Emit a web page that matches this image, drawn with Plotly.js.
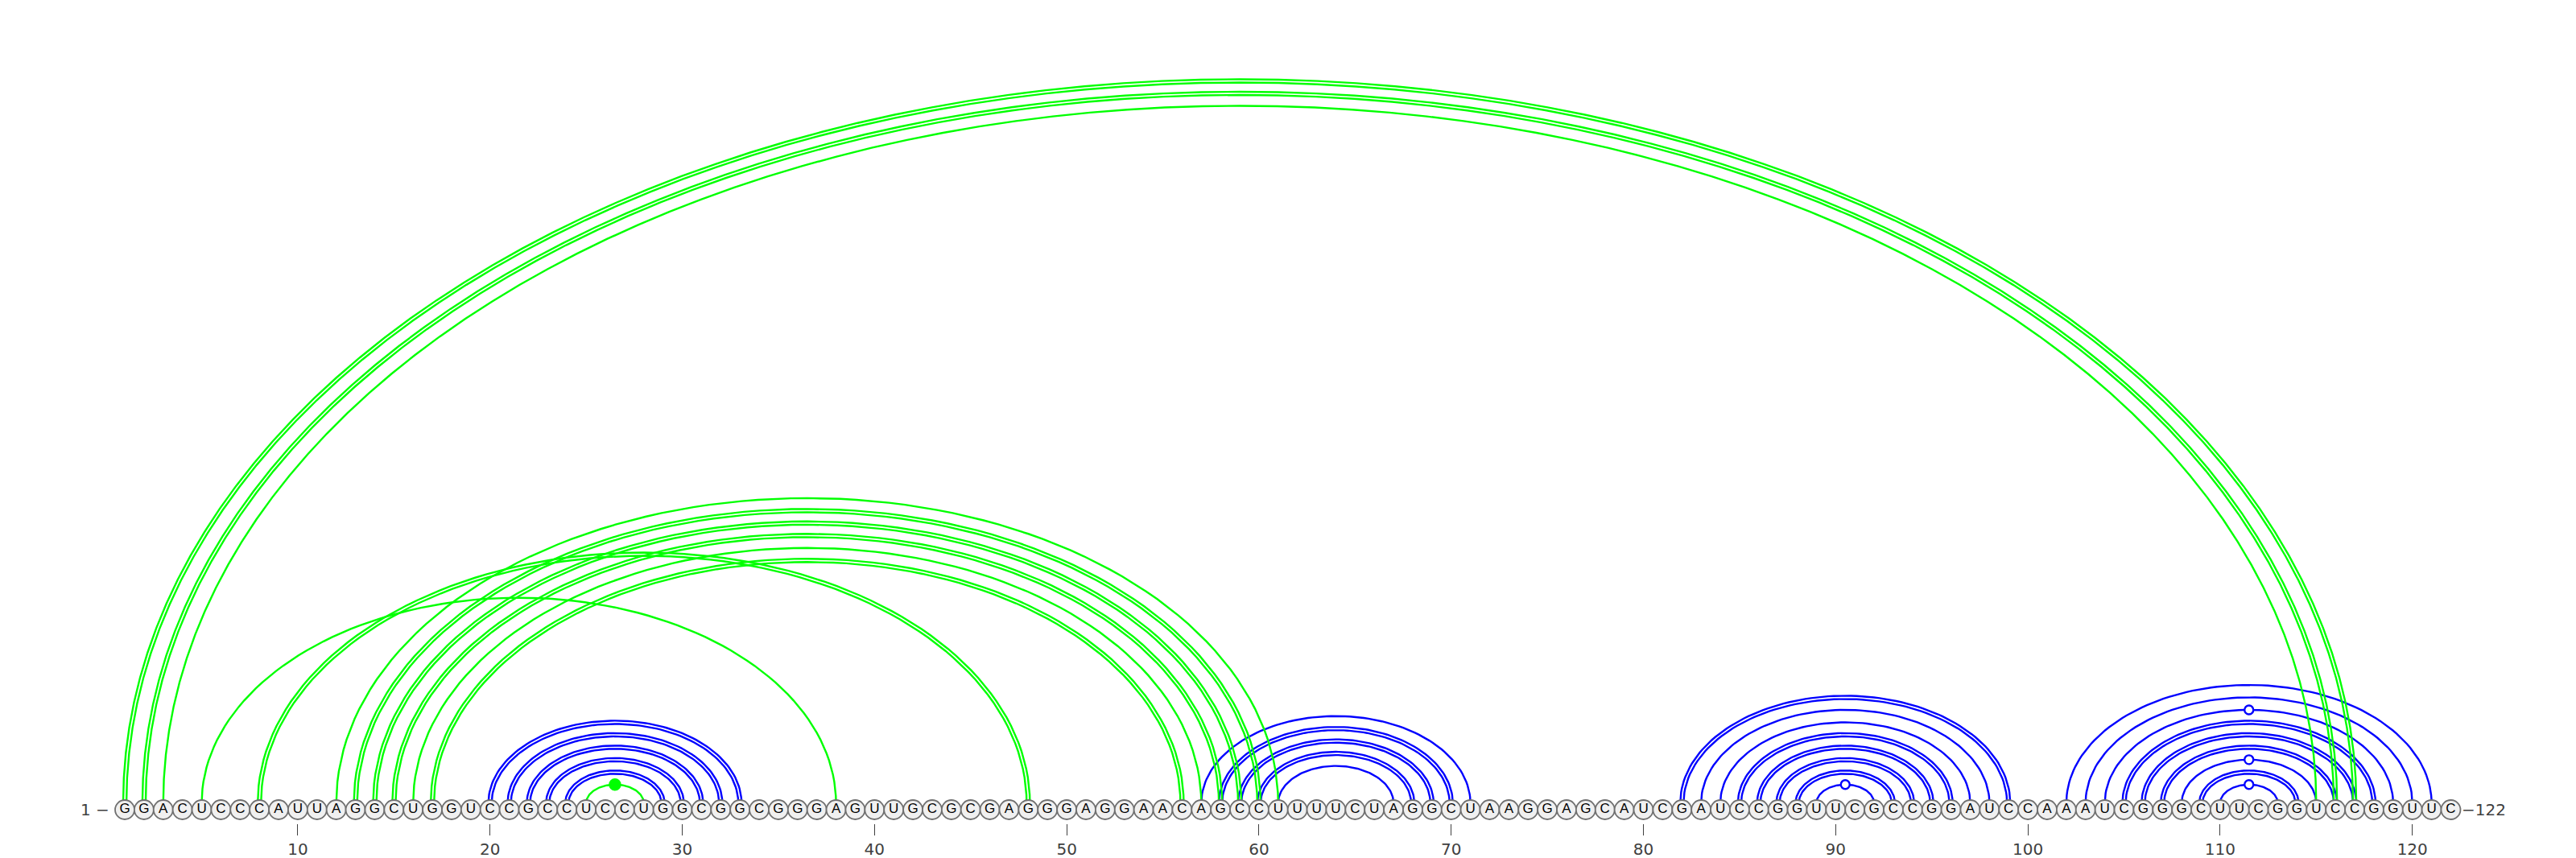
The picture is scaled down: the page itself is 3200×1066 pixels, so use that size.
<!DOCTYPE html>
<html>
<head>
<meta charset="utf-8">
<script src="https://cdn.plot.ly/plotly-3.0.1.min.js"></script>
<style>
  html, body { margin: 0; padding: 0; background: #fff; }
  #arc-plot { width: 3200px; height: 1066px; }
</style>
</head>
<body>
<div id="arc-plot"></div>
<script>
//sequence, one letter per nucleotide (1..122)
const sequence = 'GGACUCCCAUUAGGCUGGUCCGCCUCCUGGCGGCGGGAGUUGCGCGAGGGAGGAACAGCCUUUUCUAGGCUAAGGAGCAUCGAUCCGGUUCGCCGGAUCCAAAUCGGGCUUCGGUCCGGUUC'

//blue pairs (i -> j), lines = 1 single arc, 2 double arc
const blueI = [20, 21, 22, 23, 24, 57, 58, 59, 60, 61, 82, 83, 84, 85, 86, 87, 88, 89, 102, 103, 104, 105, 106, 107, 108, 109, 110]
const blueJ = [33, 32, 31, 30, 29, 71, 70, 69, 68, 67, 99, 98, 97, 96, 95, 94, 93, 92, 121, 120, 119, 118, 117, 116, 115, 114, 113]
const blueLines = [2, 2, 2, 2, 2, 1, 2, 2, 2, 1, 2, 1, 1, 2, 2, 2, 2, 1, 1, 1, 1, 2, 2, 2, 1, 2, 1]

//green pairs
const greenI = [1, 2, 3, 5, 8, 12, 13, 14, 15, 16, 17, 25]
const greenJ = [117, 116, 115, 38, 48, 61, 60, 59, 58, 57, 56, 28]
const greenLines = [2, 2, 1, 1, 2, 1, 2, 2, 2, 1, 2, 1]

//pairs with an open circle on top (G-U wobble)
const wobbleI = [89, 104, 108, 110]
const wobbleJ = [92, 119, 115, 113]
//pairs with a filled dot on top (non canonical)
const nonCanonI = [25]
const nonCanonJ = [28]

const tickVals = [10, 20, 30, 40, 50, 60, 70, 80, 90, 100, 110, 120]

//look
const blue = 'rgb(0,0,255)'
const green = 'rgb(0,255,0)'
const nucFill = 'rgb(240,240,240)'
const nucLine = 'rgb(112,112,112)'
const textColor = 'rgb(64,64,64)'
const arcRatio = 0.648 // arc height / half width
const doubleGap = 0.085 // half the distance between the two lines of a double arc
const pxPerNt = 23.88
const nucY = -8 / pxPerNt

function arcHeight(i, j) {
  return (arcRatio * (j - i)) / 2
}

//one trace per colour, arcs separated by nulls
function arcTrace(I, J, lines, color) {
  let xs = []
  let ys = []
  I.forEach((i, k) => {
    let c = (i + J[k]) / 2
    let hw = (J[k] - i) / 2
    let h = arcHeight(i, J[k])
    let offsets = lines[k] == 2 ? [doubleGap, -doubleGap] : [0]
    offsets.forEach(off => {
      for (let n = 0; n <= 90; n++) {
        let t = Math.PI - (Math.PI * n) / 90
        xs.push(c + (hw + off) * Math.cos(t))
        ys.push((h + off) * Math.sin(t))
      }
      xs.push(null)
      ys.push(null)
    })
  })
  return {
    x: xs,
    y: ys,
    type: 'scatter',
    mode: 'lines',
    line: { color: color, width: 2.4 },
    hoverinfo: 'skip',
    cliponaxis: false,
  }
}

function topMarkers(I, J, fill, size) {
  return {
    x: I.map((i, k) => (i + J[k]) / 2),
    y: I.map((i, k) => arcHeight(i, J[k])),
    type: 'scatter',
    mode: 'markers',
    marker: { size: size, color: fill, line: { color: fill == 'white' ? blue : green, width: 2.4 } },
    hoverinfo: 'skip',
    cliponaxis: false,
  }
}

let letters = sequence.split('')
let positions = letters.map((_, k) => k + 1)

let nucTrace = {
  x: positions,
  y: positions.map(() => nucY),
  text: letters,
  type: 'scatter',
  mode: 'markers+text',
  textposition: 'middle center',
  textfont: { family: 'Liberation Sans, Arial, sans-serif', size: 17, color: 'black' },
  marker: { size: 24, color: nucFill, line: { color: nucLine, width: 1.8 } },
  hoverinfo: 'skip',
  cliponaxis: false,
}

let data = [
  arcTrace(blueI, blueJ, blueLines, blue),
  arcTrace(greenI, greenJ, greenLines, green),
  nucTrace,
  topMarkers(wobbleI, wobbleJ, 'white', 11),
  topMarkers(nonCanonI, nonCanonJ, green, 13),
]

let x0 = 1 - 155 / pxPerNt
let layout = {
  width: 3200,
  height: 1066,
  margin: { l: 0, r: 0, t: 0, b: 43 },
  paper_bgcolor: 'white',
  plot_bgcolor: 'white',
  showlegend: false,
  hovermode: false,
  xaxis: {
    range: [x0, x0 + 3200 / pxPerNt],
    tickvals: tickVals,
    ticks: 'outside',
    ticklen: 14,
    tickwidth: 1,
    tickcolor: textColor,
    tickfont: { family: 'DejaVu Sans, sans-serif', size: 20, color: textColor },
    showgrid: false,
    zeroline: false,
    showline: false,
    fixedrange: true,
  },
  yaxis: {
    range: [-25 / pxPerNt, 998 / pxPerNt],
    visible: false,
    fixedrange: true,
  },
  annotations: [
    {
      x: 0.3,
      y: nucY,
      xref: 'x',
      yref: 'y',
      text: '1 \u2212',
      xanchor: 'right',
      showarrow: false,
      font: { family: 'DejaVu Sans, sans-serif', size: 20, color: textColor },
    },
    {
      x: 122.5,
      y: nucY,
      xref: 'x',
      yref: 'y',
      text: '\u2212122',
      xanchor: 'left',
      showarrow: false,
      font: { family: 'DejaVu Sans, sans-serif', size: 20, color: textColor },
    },
  ],
}

Plotly.newPlot('arc-plot', data, layout, { displayModeBar: false, staticPlot: true })
</script>
</body>
</html>
